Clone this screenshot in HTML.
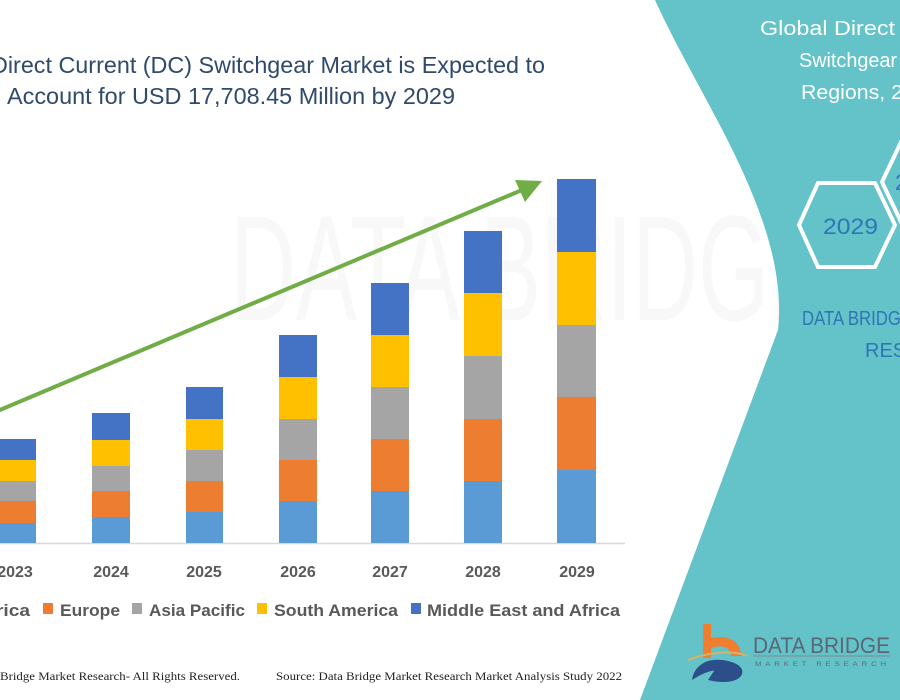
<!DOCTYPE html>
<html><head><meta charset="utf-8"><style>html,body{margin:0;padding:0;background:#fff}svg{display:block}</style></head>
<body>
<svg width="900" height="700" viewBox="0 0 900 700" xmlns="http://www.w3.org/2000/svg">
<rect width="900" height="700" fill="#fff"/>
<g font-family="Liberation Sans, sans-serif" fill="#f8f8f8" font-size="150">
<text x="230" y="320" textLength="600" lengthAdjust="spacingAndGlyphs">DATA BRIDGE</text>
</g>
<path d="M655,0 C700,100 790,220 778,330 L640,700 L900,700 L900,0 Z" fill="#63C3C8"/>
<g font-family="Liberation Sans, sans-serif" fill="#2F4A6A" font-size="23">
<text x="-9" y="73" textLength="554" lengthAdjust="spacingAndGlyphs">Direct Current (DC) Switchgear Market is Expected to</text>
<text x="7" y="104" textLength="448" lengthAdjust="spacingAndGlyphs">Account for USD 17,708.45 Million by 2029</text>
</g>
<line x1="0" y1="543.5" x2="625" y2="543.5" stroke="#d9d9d9" stroke-width="1.5"/>
<g>
<rect x="-6" y="523" width="42" height="20" fill="#5B9BD5"/><rect x="-6" y="501" width="42" height="22" fill="#ED7D31"/><rect x="-6" y="481" width="42" height="20" fill="#A5A5A5"/><rect x="-6" y="460" width="42" height="21" fill="#FFC000"/><rect x="-6" y="439" width="42" height="21" fill="#4472C4"/>
<rect x="92" y="517" width="38" height="26" fill="#5B9BD5"/><rect x="92" y="491" width="38" height="26" fill="#ED7D31"/><rect x="92" y="466" width="38" height="25" fill="#A5A5A5"/><rect x="92" y="440" width="38" height="26" fill="#FFC000"/><rect x="92" y="413" width="38" height="27" fill="#4472C4"/>
<rect x="186" y="512" width="37" height="31" fill="#5B9BD5"/><rect x="186" y="481" width="37" height="31" fill="#ED7D31"/><rect x="186" y="450" width="37" height="31" fill="#A5A5A5"/><rect x="186" y="419" width="37" height="31" fill="#FFC000"/><rect x="186" y="387" width="37" height="32" fill="#4472C4"/>
<rect x="279" y="501" width="38" height="42" fill="#5B9BD5"/><rect x="279" y="460" width="38" height="41" fill="#ED7D31"/><rect x="279" y="419" width="38" height="41" fill="#A5A5A5"/><rect x="279" y="377" width="38" height="42" fill="#FFC000"/><rect x="279" y="335" width="38" height="42" fill="#4472C4"/>
<rect x="371" y="491" width="38" height="52" fill="#5B9BD5"/><rect x="371" y="439" width="38" height="52" fill="#ED7D31"/><rect x="371" y="387" width="38" height="52" fill="#A5A5A5"/><rect x="371" y="335" width="38" height="52" fill="#FFC000"/><rect x="371" y="283" width="38" height="52" fill="#4472C4"/>
<rect x="464" y="481" width="38" height="62" fill="#5B9BD5"/><rect x="464" y="419" width="38" height="62" fill="#ED7D31"/><rect x="464" y="356" width="38" height="63" fill="#A5A5A5"/><rect x="464" y="293" width="38" height="63" fill="#FFC000"/><rect x="464" y="231" width="38" height="62" fill="#4472C4"/>
<rect x="557" y="470" width="39" height="73" fill="#5B9BD5"/><rect x="557" y="397" width="39" height="73" fill="#ED7D31"/><rect x="557" y="325" width="39" height="72" fill="#A5A5A5"/><rect x="557" y="252" width="39" height="73" fill="#FFC000"/><rect x="557" y="179" width="39" height="73" fill="#4472C4"/>
</g>
<line x1="-5" y1="412" x2="522" y2="190" stroke="#70AD47" stroke-width="4"/>
<polygon points="542,181 515,180 525,202" fill="#70AD47"/>
<g font-family="Liberation Sans, sans-serif" font-weight="bold" fill="#595959" font-size="16" text-anchor="middle">
<text x="15" y="577">2023</text><text x="111" y="577">2024</text><text x="204" y="577">2025</text><text x="298" y="577">2026</text><text x="390" y="577">2027</text><text x="483" y="577">2028</text><text x="577" y="577">2029</text>
</g>
<g font-family="Liberation Sans, sans-serif" font-weight="bold" fill="#595959" font-size="17">
<text x="-4" y="616" textLength="34" lengthAdjust="spacingAndGlyphs">rica</text>
<rect x="43" y="603" width="10" height="11" fill="#ED7D31"/><text x="60" y="616" textLength="60" lengthAdjust="spacingAndGlyphs">Europe</text>
<rect x="132" y="603" width="10" height="11" fill="#A5A5A5"/><text x="149" y="616" textLength="96" lengthAdjust="spacingAndGlyphs">Asia Pacific</text>
<rect x="257" y="603" width="10" height="11" fill="#FFC000"/><text x="274" y="616" textLength="124" lengthAdjust="spacingAndGlyphs">South America</text>
<rect x="411" y="603" width="10" height="11" fill="#4472C4"/><text x="427" y="616" textLength="193" lengthAdjust="spacingAndGlyphs">Middle East and Africa</text>
</g>
<g font-family="Liberation Sans, sans-serif" fill="#222" font-size="12">
</g>
<g font-family="Liberation Serif, serif" fill="#222" font-size="12">
<text x="0" y="680" textLength="240" lengthAdjust="spacingAndGlyphs">Bridge Market Research- All Rights Reserved.</text>
<text x="276" y="680" textLength="346" lengthAdjust="spacingAndGlyphs">Source: Data Bridge Market Research Market Analysis Study 2022</text>
</g>
<g font-family="Liberation Sans, sans-serif" fill="#fff" font-size="20">
<text x="760" y="35" textLength="135" lengthAdjust="spacingAndGlyphs">Global Direct</text>
<text x="799" y="67" textLength="98" lengthAdjust="spacingAndGlyphs">Switchgear</text>
<text x="801" y="99" textLength="102" lengthAdjust="spacingAndGlyphs">Regions, 2</text>
</g>
<polygon points="799,225 818,183 875,183 895,225 875,267 818,267" fill="none" stroke="#fff" stroke-width="4"/>
<polygon points="882,182 902,140 960,140 980,182 960,224 902,224" fill="none" stroke="#fff" stroke-width="4"/>
<g font-family="Liberation Sans, sans-serif" fill="#2E75B6" font-size="22">
<text x="823" y="234" textLength="55" lengthAdjust="spacingAndGlyphs">2029</text>
<text x="895" y="190">2</text>
</g>
<g font-family="Liberation Sans, sans-serif" fill="#2E75B6" font-size="20">
<text x="802" y="325" textLength="110" lengthAdjust="spacingAndGlyphs">DATA BRIDGE</text>
<text x="865" y="357">RESEARCH</text>
</g>
<path d="M703,624 h8 v14 c18,-4 30,4 30,18 l-10,0 c0,-8 -8,-12 -20,-8 v10 h-8 z" fill="#F07E2E"/>
<path d="M688,660 c20,-8 45,-10 60,-4" stroke="#d7b26a" stroke-width="2" fill="none"/>
<path d="M692,680 c2,-14 14,-22 30,-20 c16,2 22,8 20,14 c-3,8 -18,10 -34,6 l8,-12 c10,2 16,4 16,6 c-14,-8 -28,-2 -40,6 z" fill="#2C4E8A"/>
<g font-family="Liberation Sans, sans-serif" fill="#5a6775">
<text x="753" y="653" font-size="22" textLength="137" lengthAdjust="spacingAndGlyphs">DATA BRIDGE</text>
<text x="755" y="666" font-size="6" textLength="135" lengthAdjust="spacingAndGlyphs" letter-spacing="3">MARKET RESEARCH</text>
</g>
<line x1="753" y1="656" x2="890" y2="656" stroke="#7a8a9a" stroke-width="1"/>
</svg>
</body></html>
